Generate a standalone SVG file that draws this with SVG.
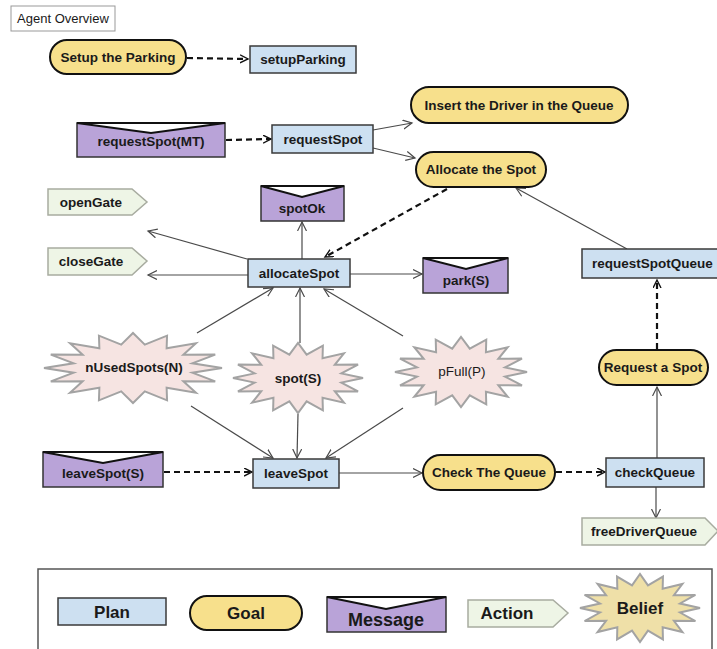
<svg xmlns="http://www.w3.org/2000/svg" xmlns:xlink="http://www.w3.org/1999/xlink" width="717" height="649" viewBox="0 0 717 649">
<style>
text{font-family:"Liberation Sans",Arial,sans-serif;font-weight:bold;font-size:13.5px;fill:#1a1a1a;text-anchor:middle}
.plan{fill:#cde0f1;stroke:#3a3a3a;stroke-width:1.5}
.goal{fill:#f7e08c;stroke:#111;stroke-width:2}
.msg{fill:#b9a3d8;stroke:#333;stroke-width:1.5}
.flap{fill:#fff;stroke:#111;stroke-width:2;stroke-linejoin:miter}
.act{fill:#eef5e6;stroke:#a8aca0;stroke-width:1.5}
.bel{fill:#f6e4e2;stroke:#a3a3a3;stroke-width:2}
.solid{stroke:#4a4a4a;stroke-width:1.2;fill:none;marker-end:url(#ah)}
.dash{stroke:#111;stroke-width:2.2;stroke-dasharray:6 4;fill:none;marker-end:url(#dh)}
</style>
<defs>
<marker id="ah" markerUnits="userSpaceOnUse" markerWidth="12" markerHeight="12" refX="9" refY="5" orient="auto"><path d="M0,0.5 L9,5 L0,9.5" fill="none" stroke="#4a4a4a" stroke-width="1.2"/></marker>
<marker id="dh" markerUnits="userSpaceOnUse" markerWidth="12" markerHeight="12" refX="8" refY="4.5" orient="auto"><path d="M0,0.5 L8,4.5 L0,8.5" fill="none" stroke="#111" stroke-width="1.4"/></marker>
<polygon id="star" vector-effect="non-scaling-stroke" points="1,0 0.6669,0.1327 0.9239,0.3827 0.5654,0.3778 0.7071,0.7071 0.3778,0.5654 0.3827,0.9239 0.1327,0.6669 0,1 -0.1327,0.6669 -0.3827,0.9239 -0.3778,0.5654 -0.7071,0.7071 -0.5654,0.3778 -0.9239,0.3827 -0.6669,0.1327 -1,0 -0.6669,-0.1327 -0.9239,-0.3827 -0.5654,-0.3778 -0.7071,-0.7071 -0.3778,-0.5654 -0.3827,-0.9239 -0.1327,-0.6669 0,-1 0.1327,-0.6669 0.3827,-0.9239 0.3778,-0.5654 0.7071,-0.7071 0.5654,-0.3778 0.9239,-0.3827 0.6669,-0.1327"/>
</defs>
<rect width="717" height="649" fill="#fff"/>

<g id="title">
<rect x="11" y="6" width="104" height="25" fill="#fff" stroke="#999" stroke-width="1"/>
<text x="63" y="23" style="font-weight:normal;font-size:13px">Agent Overview</text>
</g>

<g id="connectors">
<line class="dash" x1="187" y1="58" x2="248" y2="59"/>
<line class="dash" x1="226" y1="140" x2="271" y2="139"/>
<line class="solid" x1="373" y1="130" x2="412" y2="123"/>
<line class="solid" x1="373" y1="148" x2="415" y2="158"/>
<line class="dash" x1="447" y1="189" x2="325" y2="257"/>
<line class="solid" x1="627" y1="249" x2="516" y2="188"/>
<line class="solid" x1="302" y1="259" x2="302" y2="222"/>
<line class="solid" x1="247" y1="259" x2="148" y2="231"/>
<line class="solid" x1="248" y1="275" x2="148" y2="275"/>
<line class="solid" x1="350" y1="274" x2="422" y2="274"/>
<line class="solid" x1="197" y1="333" x2="273" y2="288"/>
<line class="solid" x1="300" y1="343" x2="300" y2="288"/>
<line class="solid" x1="403" y1="336" x2="324" y2="289"/>
<line class="solid" x1="191" y1="406" x2="273" y2="458"/>
<line class="solid" x1="298" y1="414" x2="297" y2="458"/>
<line class="solid" x1="403" y1="408" x2="326" y2="458"/>
<line class="dash" x1="164" y1="472" x2="252" y2="472"/>
<line class="solid" x1="339" y1="473" x2="422" y2="473"/>
<line class="dash" x1="556" y1="472" x2="605" y2="472"/>
<line class="solid" x1="657" y1="458" x2="657" y2="387"/>
<line class="dash" x1="657" y1="349" x2="657" y2="280"/>
<line class="solid" x1="656" y1="487" x2="656" y2="518"/>
</g>

<g id="goal-setup"><rect class="goal" x="50" y="40" width="136" height="34" rx="17"/><text x="118" y="62">Setup the Parking</text></g>
<g id="plan-setupParking"><rect class="plan" x="250" y="46" width="106" height="27"/><text x="303" y="64">setupParking</text></g>
<g id="msg-requestSpotMT"><rect class="msg" x="77" y="123" width="148" height="34"/><polygon class="flap" points="77,123 151,133 225,123"/><text x="151" y="146">requestSpot(MT)</text></g>
<g id="plan-requestSpot"><rect class="plan" x="272" y="125" width="101" height="28"/><text x="323" y="144">requestSpot</text></g>
<g id="goal-insert"><rect class="goal" x="411" y="87" width="217" height="36" rx="18"/><text x="519" y="110">Insert the Driver in the Queue</text></g>
<g id="goal-allocate"><rect class="goal" x="416" y="152" width="130" height="35" rx="17.5"/><text x="481" y="174">Allocate the Spot</text></g>
<g id="act-openGate"><polygon class="act" points="48,189 132,189 147,202 132,215 48,215"/><text x="91" y="207">openGate</text></g>
<g id="act-closeGate"><polygon class="act" points="48,248 132,248 147,261 132,275 48,275"/><text x="91" y="266">closeGate</text></g>
<g id="msg-spotOk"><rect class="msg" x="261" y="186" width="83" height="35"/><polygon class="flap" points="261,186 302,197 344,186"/><text x="302" y="213">spotOk</text></g>
<g id="plan-allocateSpot"><rect class="plan" x="248" y="259" width="102" height="28"/><text x="299" y="278">allocateSpot</text></g>
<g id="msg-park"><rect class="msg" x="423" y="258" width="85" height="35"/><polygon class="flap" points="423,258 466,269 508,258"/><text x="466" y="285">park(S)</text></g>
<g id="plan-requestSpotQueue"><rect class="plan" x="582" y="249" width="140" height="29"/><text x="592" y="268" style="text-anchor:start">requestSpotQueue</text></g>
<g id="bel-nUsedSpots"><use xlink:href="#star" class="bel" transform="translate(133,368) scale(89,35)"/><text x="134" y="372">nUsedSpots(N)</text></g>
<g id="bel-spot"><use xlink:href="#star" class="bel" transform="translate(298,378) scale(65,35)"/><text x="298" y="383">spot(S)</text></g>
<g id="bel-pFull"><use xlink:href="#star" class="bel" transform="translate(461,372) scale(66,35)"/><text x="462" y="376" style="font-weight:normal">pFull(P)</text></g>
<g id="goal-requestSpot"><rect class="goal" x="599" y="350" width="109" height="35" rx="17.5"/><text x="653" y="372">Request a Spot</text></g>
<g id="msg-leaveSpotS"><rect class="msg" x="43" y="452" width="120" height="35"/><polygon class="flap" points="43,452 103,463 163,452"/><text x="103" y="478">leaveSpot(S)</text></g>
<g id="plan-leaveSpot"><rect class="plan" x="253" y="459" width="86" height="29"/><text x="296" y="478">leaveSpot</text></g>
<g id="goal-checkQueue"><rect class="goal" x="423" y="455" width="132" height="35" rx="17.5"/><text x="489" y="477">Check The Queue</text></g>
<g id="plan-checkQueue"><rect class="plan" x="606" y="458" width="98" height="29"/><text x="655" y="477">checkQueue</text></g>
<g id="act-freeDriverQueue"><polygon class="act" points="582,518 705,518 718,531 705,545 582,545"/><text x="644" y="536">freeDriverQueue</text></g>

<g id="legend">
<rect x="38" y="569" width="674" height="92" fill="#fff" stroke="#555" stroke-width="1.5"/>
<rect class="plan" x="58" y="598" width="108" height="27"/><text x="112" y="618" style="font-size:17px">Plan</text>
<rect class="goal" x="190" y="596" width="112" height="34" rx="17"/><text x="246" y="619" style="font-size:17px">Goal</text>
<rect class="msg" x="327" y="597" width="119" height="35"/><polygon class="flap" points="327,597 386,609 446,597"/><text x="386" y="626" style="font-size:18px">Message</text>
<polygon class="act" points="468,600 553,600 568,613 553,627 468,627"/><text x="507" y="619" style="font-size:17px">Action</text>
<use xlink:href="#star" class="bel" style="fill:#efe0a8" transform="translate(640,608) scale(60,34)"/><text x="640" y="614" style="font-size:17px">Belief</text>
</g>
</svg>
